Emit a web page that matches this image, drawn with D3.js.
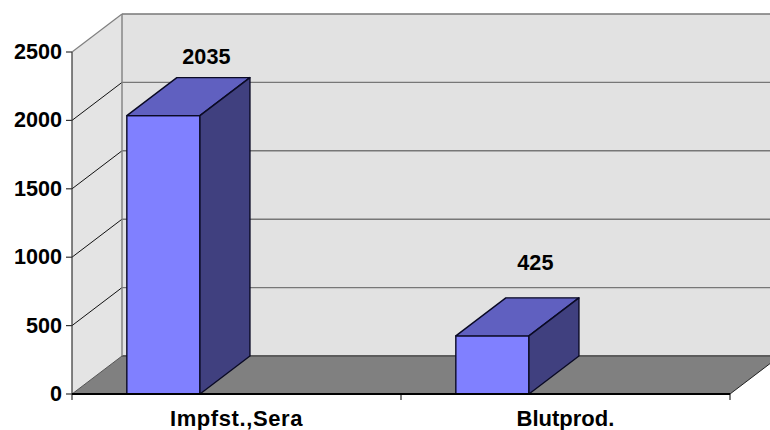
<!DOCTYPE html>
<html><head><meta charset="utf-8"><style>html,body{margin:0;padding:0;background:#fff}svg{display:block}text{font-family:"Liberation Sans",Arial,sans-serif;font-weight:bold;fill:#000}</style>
<script src="https://cdn.jsdelivr.net/npm/d3@7/dist/d3.min.js"></script></head><body><script>
const categories = ["Impfst.,Sera", "Blutprod."];
const values = [2035, 425];
const yTicks = [0, 500, 1000, 1500, 2000, 2500];

const W = 770, H = 430;
const svg = d3.select("body").append("svg").attr("width", W).attr("height", H);
const y = d3.scaleLinear().domain([0, 2500]).range([394, 52]);
const x = d3.scaleBand().domain(categories).range([72, 730]);
const barW = x.bandwidth() / 4.5, barGap = barW * 0.75;
const dx = 50, dy = -38;
const P = a => a.map(p => p.join(",")).join(" ");
const x0 = x.range()[0], x1 = x.range()[1], yb = y(0), yt = y(2500);

// walls and floor
svg.append("polygon").attr("points", P([[x0,yb],[x0,yt],[x0+dx,yt+dy],[x0+dx,yb+dy]])).attr("fill","#e4e4e4");
svg.append("rect").attr("x",x0+dx).attr("y",yt+dy).attr("width",W-x0-dx).attr("height",yb-yt).attr("fill","#e2e2e2");
svg.append("polygon").attr("points", P([[x0,yb],[x1,yb],[x1+dx,yb+dy],[x0+dx,yb+dy]])).attr("fill","#808080");

// gridlines
yTicks.forEach(t => {
  if (t > 0) svg.append("line").attr("x1",x0).attr("y1",y(t)).attr("x2",x0+dx).attr("y2",y(t)+dy)
    .attr("stroke", t===2500 ? "#808080" : "#111").attr("stroke-width", t===2500 ? 1.2 : 1);
  svg.append("line").attr("x1",x0+dx).attr("y1",y(t)+dy).attr("x2",W).attr("y2",y(t)+dy)
    .attr("stroke", t===0 ? "#5c5c5c" : "#777").attr("stroke-width", t===0 ? 2 : 1.4);
});
svg.append("line").attr("x1",x0+dx).attr("y1",yt+dy).attr("x2",x0+dx).attr("y2",yb+dy).attr("stroke","#808080").attr("stroke-width",1.4);
svg.append("line").attr("x1",x0).attr("y1",yb).attr("x2",x0+dx).attr("y2",yb+dy).attr("stroke","#555").attr("stroke-width",1);
svg.append("line").attr("x1",x1).attr("y1",yb).attr("x2",x1+dx).attr("y2",yb+dy).attr("stroke","#222").attr("stroke-width",1);

// bars
const bars = svg.append("g").selectAll("g").data(categories.map((c,i)=>({c,v:values[i]}))).join("g");
const st = s => s.attr("stroke","#0a0a24").attr("stroke-width",1.4).attr("stroke-linejoin","round");
bars.append("rect").attr("x",d=>x(d.c)+barGap).attr("y",d=>y(d.v)).attr("width",barW).attr("height",d=>yb-y(d.v)).attr("fill","#8080ff").call(st);
bars.append("polygon").attr("points",d=>{const l=x(d.c)+barGap,r=l+barW,t=y(d.v);return P([[l,t],[r,t],[r+dx,t+dy],[l+dx,t+dy]]);}).attr("fill","#6060c0").call(st);
bars.append("polygon").attr("points",d=>{const r=x(d.c)+barGap+barW,t=y(d.v);return P([[r,t],[r+dx,t+dy],[r+dx,yb+dy],[r,yb]]);}).attr("fill","#40407f").call(st);

// axes
const ax = svg.append("g").attr("stroke","#000");
ax.append("line").attr("x1",x0).attr("x2",x0).attr("y1",yt).attr("y2",yb+6).attr("stroke","#333").attr("stroke-width",1.2);
ax.append("line").attr("x1",x0).attr("x2",x1).attr("y1",yb).attr("y2",yb).attr("stroke-width",1.8);
yTicks.forEach(t => ax.append("line").attr("x1",x0-6).attr("x2",x0).attr("y1",y(t)).attr("y2",y(t)).attr("stroke","#333").attr("stroke-width",1.2));
[x1, x(categories[1])].forEach(px => ax.append("line").attr("x1",px).attr("x2",px).attr("y1",yb).attr("y2",yb+6).attr("stroke-width",1));

svg.append("g").selectAll("text").data(yTicks).join("text").attr("x",62).attr("y",d=>y(d)+7).attr("text-anchor","end").attr("font-size",21.6).text(d=>d);
const catSpacing = [0.6, 0];
svg.append("g").selectAll("text").data(categories).join("text").attr("x",d=>x(d)+x.bandwidth()/2).attr("y",426).attr("text-anchor","middle").attr("font-size",22).attr("letter-spacing",(d,i)=>catSpacing[i]).text(d=>d);
const labelLift = [14, 28];
svg.append("g").selectAll("text").data(values).join("text")
  .attr("x",(d,i)=>x(categories[i])+barGap+barW/2+43).attr("y",(d,i)=>y(d)+dy-labelLift[i]).attr("text-anchor","middle").attr("font-size",21.6).text(d=>d);
</script></body></html>
